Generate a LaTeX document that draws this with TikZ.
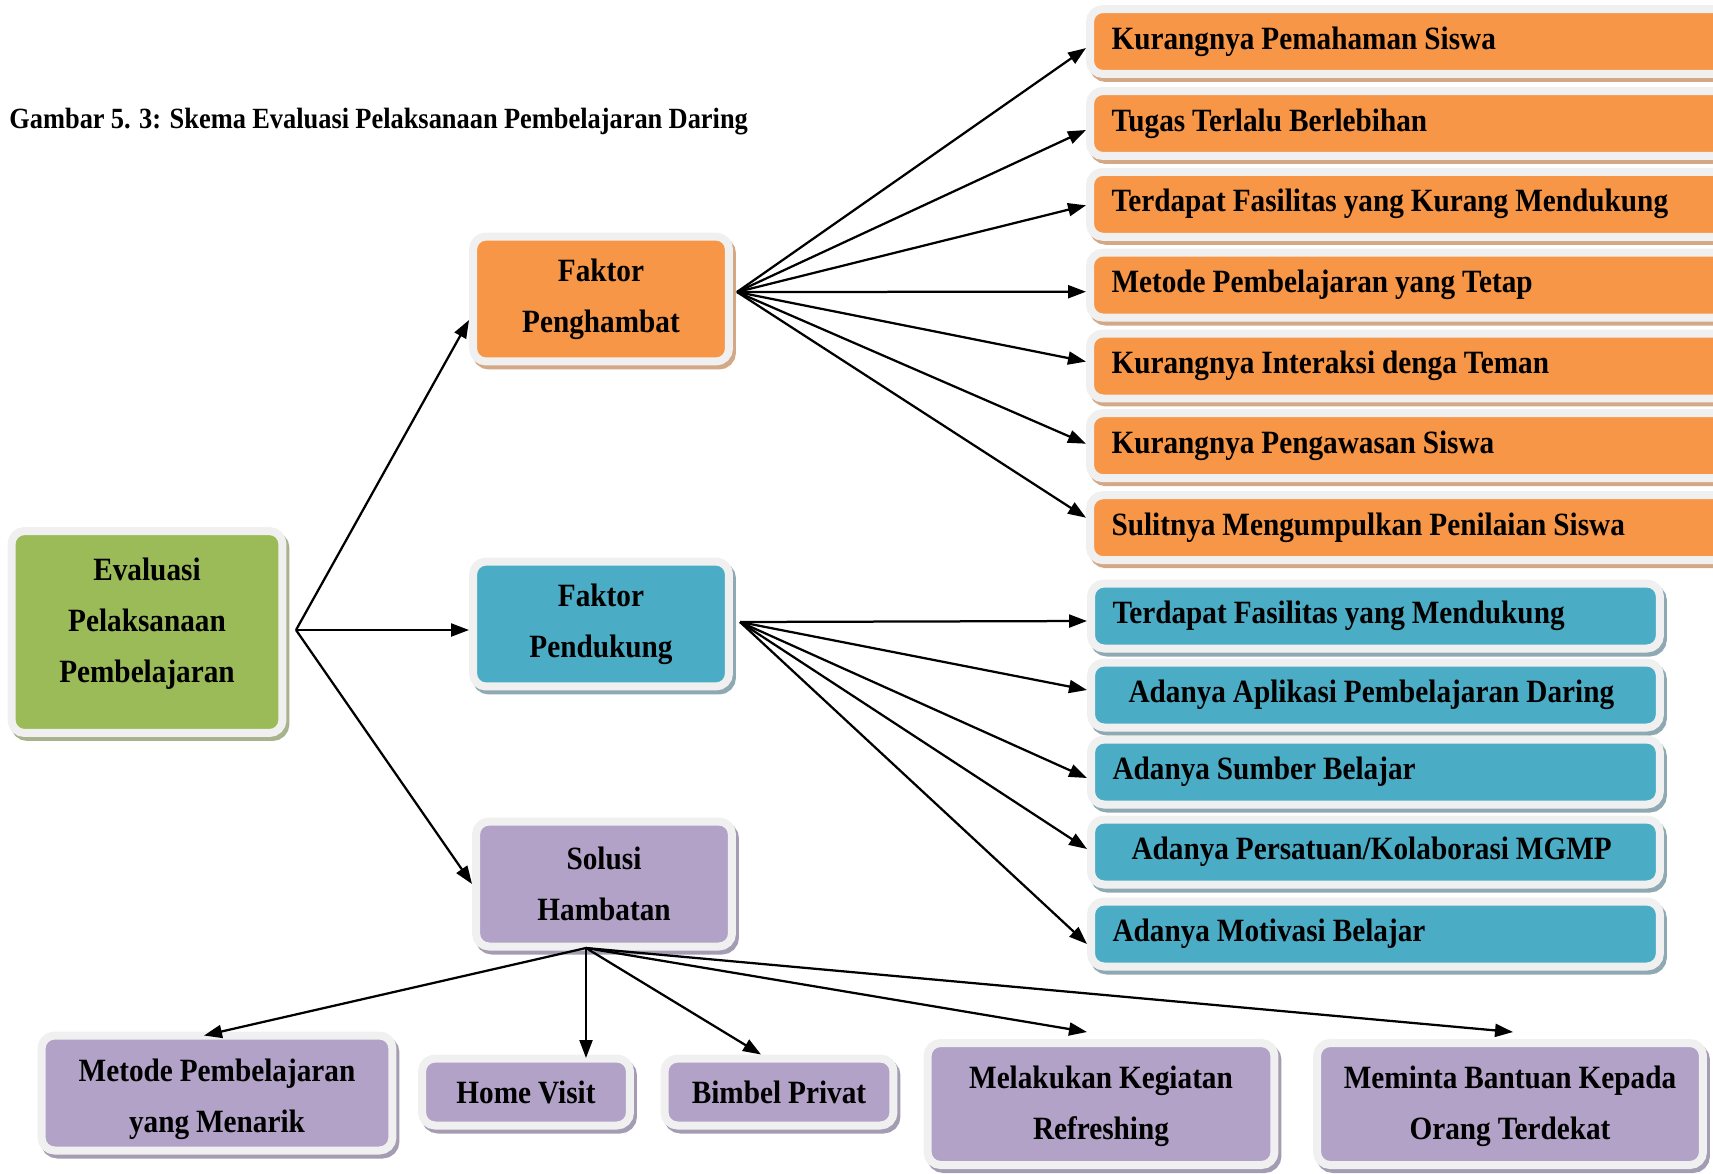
\documentclass[tikz,border=0pt]{standalone}
\usepackage{fontspec}
\setmainfont{Liberation Serif}[FakeStretch=0.9, WordSpace=0.95]
\usetikzlibrary{arrows.meta,calc,shadows}
\definecolor{oranye}{HTML}{F79646}
\definecolor{hijau}{HTML}{9BBB59}
\definecolor{biru}{HTML}{4BACC6}
\definecolor{ungu}{HTML}{B2A2C7}
\definecolor{bingkai}{HTML}{F0F0F0}
\definecolor{bayangoranye}{HTML}{D3A887}
\definecolor{bayanghijau}{HTML}{A8B38E}
\definecolor{bayangbiru}{HTML}{8FA9B3}
\definecolor{bayangungu}{HTML}{A39CB2}
\begin{document}
\begin{tikzpicture}[x=0.02cm, y=-0.02cm,
    kotak/.style={draw=bingkai, line width=0.16cm, rounded corners=0.26cm, inner sep=0,
        align=center, font=\bfseries\fontsize{18.5}{29}\selectfont},
    kotakoranye/.style={kotak, fill=oranye, drop shadow={shadow xshift=0.06cm, shadow yshift=-0.08cm, opacity=1, fill=bayangoranye, draw=bayangoranye}},
    kotakhijau/.style={kotak, fill=hijau, drop shadow={shadow xshift=0.06cm, shadow yshift=-0.08cm, opacity=1, fill=bayanghijau, draw=bayanghijau}},
    kotakbiru/.style={kotak, fill=biru, drop shadow={shadow xshift=0.06cm, shadow yshift=-0.08cm, opacity=1, fill=bayangbiru, draw=bayangbiru}},
    kotakungu/.style={kotak, fill=ungu, drop shadow={shadow xshift=0.06cm, shadow yshift=-0.08cm, opacity=1, fill=bayangungu, draw=bayangungu}},
    daftar/.style={anchor=west, align=flush left, inner xsep=0.43cm, minimum height=1.3cm}]
\useasboundingbox (0,0) rectangle (1713,1173);
\node[anchor=west, inner sep=0, font=\bfseries\fontsize{16.7}{20}\selectfont] (judul) at (9,122)
    {Gambar 5. 3: Skema Evaluasi Pelaksanaan Pembelajaran Daring};
\node[kotakhijau, minimum width=5.42cm, minimum height=4.04cm] (ev) at (147,632)
    {Evaluasi\\Pelaksanaan\\Pembelajaran\rule[-0.46cm]{0pt}{0.1cm}};
\node[kotakoranye, minimum width=5.12cm, minimum height=2.5cm] (pen) at (601,299) {Faktor\\Penghambat};
\node[kotakbiru, minimum width=5.12cm, minimum height=2.5cm] (pend) at (601,624) {Faktor\\Pendukung};
\node[kotakungu, minimum width=5.12cm, minimum height=2.5cm] (sol) at (604,884) {Solusi\\Hambatan};
\begin{scope}[every node/.style={kotakoranye, daftar, text width=11.94cm}]
    \node (o1) at (1086,41.5) {Kurangnya Pemahaman Siswa};
    \node (o2) at (1086,123.5) {Tugas Terlalu Berlebihan};
    \node (o3) at (1086,204.3) {Terdapat Fasilitas yang Kurang Mendukung};
    \node (o4) at (1086,285.1) {Metode Pembelajaran yang Tetap};
    \node (o5) at (1086,366) {Kurangnya Interaksi denga Teman};
    \node (o6) at (1086,445.7) {Kurangnya Pengawasan Siswa};
    \node (o7) at (1086,527.7) {Sulitnya Mengumpulkan Penilaian Siswa};
\end{scope}
\begin{scope}[every node/.style={kotakbiru, daftar, text width=10.52cm}]
    \node (b1) at (1087,616) {Terdapat Fasilitas yang Mendukung};
    \node (b2) at (1087,695) {\hspace*{0.32cm}Adanya Aplikasi Pembelajaran Daring};
    \node (b3) at (1087,772) {Adanya Sumber Belajar};
    \node (b4) at (1087,852) {\hspace*{0.38cm}Adanya Persatuan/Kolaborasi MGMP};
    \node (b5) at (1087,934) {Adanya Motivasi Belajar};
\end{scope}
\begin{scope}[every node/.style={kotakungu}]
    \node[minimum width=7.02cm, minimum height=2.3cm] (s1) at (217,1093) {\rule{0pt}{0.7cm}Metode Pembelajaran\\yang Menarik};
    \node[minimum width=4.16cm, minimum height=1.34cm] (s2) at (526,1092) {Home Visit};
    \node[minimum width=4.58cm, minimum height=1.34cm] (s3) at (779,1092) {Bimbel Privat};
    \node[minimum width=6.94cm, minimum height=2.44cm] (s4) at (1101,1104) {\rule{0pt}{0.55cm}Melakukan Kegiatan\\Refreshing};
    \node[minimum width=7.72cm, minimum height=2.44cm] (s5) at (1510,1104) {\rule{0pt}{0.55cm}Meminta Bantuan Kepada\\Orang Terdekat};
\end{scope}
\coordinate (evo) at (296,630);
\coordinate (peno) at (737,292);
\coordinate (pendo) at (740,622);
\coordinate (solo) at (586,948);
\begin{scope}[every edge/.style={draw=black, line width=0.045cm, -{Triangle[length=0.36cm, width=0.26cm]}}]
    \path (evo) edge ($(pen.west)+(0,21)$);
    \path (evo) edge ($(pend.west)+(0,6)$);
    \path (evo) edge (sol.west);
    \path (peno) edge ($(o1.west)+(0,6.5)$);
    \path (peno) edge ($(o2.west)+(0,6.5)$);
    \path (peno) edge ($(o3.west)+(0,1)$);
    \path (peno) edge ($(o4.west)+(0,6.6)$);
    \path (peno) edge ($(o5.west)+(0,-4.4)$);
    \path (peno) edge ($(o6.west)+(0,-2)$);
    \path (peno) edge ($(o7.west)+(0,-10)$);
    \path (pendo) edge ($(b1.west)+(0,5)$);
    \path (pendo) edge ($(b2.west)+(0,-5)$);
    \path (pendo) edge ($(b3.west)+(0,6)$);
    \path (pendo) edge ($(b4.west)+(0,-3)$);
    \path (pendo) edge ($(b5.west)+(0,10)$);
    \path (solo) edge ($(s1.north)+(-13,4)$);
    \path (solo) edge ($(s2.north)+(60,3.5)$);
    \path (solo) edge ($(s3.north)+(-18,0)$);
    \path (solo) edge ($(s4.north)+(-14,-7)$);
    \path (solo) edge ($(s5.north)+(3,-7)$);
\end{scope}
\end{tikzpicture}
\end{document}
